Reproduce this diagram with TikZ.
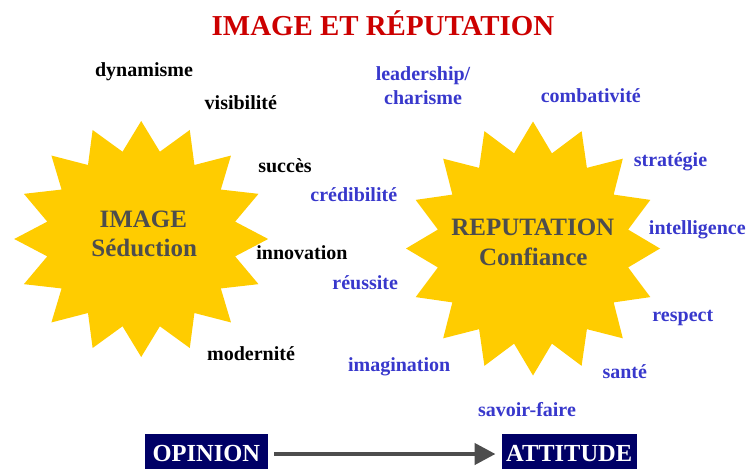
\documentclass[tikz,border=0pt]{standalone}
\usepackage{fontspec}
\setmainfont{Liberation Serif}
\usetikzlibrary{arrows.meta}

\definecolor{sunyellow}{HTML}{FFCC00}
\definecolor{titlered}{HTML}{CC0000}
\definecolor{wordblue}{HTML}{3838CC}
\definecolor{coregray}{HTML}{4D4D4D}
\definecolor{boxnavy}{HTML}{000066}

\tikzset{
  word/.style={inner sep=0pt, anchor=base, font=\bfseries\fontsize{20}{23.3}\selectfont},
  imageword/.style={word, text=black},
  repword/.style={word, text=wordblue},
  core/.style={inner sep=0pt, anchor=base, text=coregray, font=\bfseries\fontsize{25}{30}\selectfont},
  stagebox/.style={fill=boxnavy, text=white, inner sep=0pt, minimum height=40,
    font=\bfseries\fontsize{24.5}{28}\selectfont},
  flow/.style={draw=coregray, line width=4.5pt,
    -{Triangle[length=21pt,width=21pt]}, shorten <=6.3pt, shorten >=6pt},
}

% a 16-pointed star: #1 centre, #2 outer radius, #3 inner radius, #4 horizontal stretch
\newcommand{\sunburst}[4]{%
  \fill[sunyellow, shift={#1}, xscale=#4] (90:#2)
    \foreach \k in {0,...,15} { -- ({90+22.5*\k+11.25}:#3) -- ({90+22.5*(\k+1)}:#2) } -- cycle;}

\begin{document}
\begin{tikzpicture}[x=1pt, y=-1pt]
  \useasboundingbox (0,0) rectangle (751,468);

  % title
  \node[inner sep=0pt, anchor=base, text=titlered,
        font=\bfseries\fontsize{28.9}{32}\selectfont] (title) at (383,35.7) {IMAGE ET RÉPUTATION};

  % the two stars
  \coordinate (imgc) at (141.2,239);
  \coordinate (repc) at (533,248.5);
  \sunburst{(imgc)}{118}{89}{1.076}
  \sunburst{(repc)}{127}{97}{1}

  \node[core] (image) at (143.3,227.7) {IMAGE};
  \node[core] (seduction) at (144.2,256.7) {Séduction};
  \node[core] (reputation) at (532.8,235) {REPUTATION};
  \node[core] (confiance) at (533.3,265) {Confiance};

  % words around the image star
  \node[imageword] (dynamisme) at (144,76.7) {dynamisme};
  \node[imageword] (visibilite) at (240.8,109.3) {visibilité};
  \node[imageword] (succes) at (285,172) {succès};
  \node[imageword] (innovation) at (302,259.5) {innovation};
  \node[imageword] (modernite) at (251,360.7) {modernité};

  % words around the reputation star
  \node[repword, align=center, anchor=base] (leadership) at (423,104) {leadership/\\charisme};
  \node[repword] (combativite) at (590.8,102.7) {combativité};
  \node[repword] (strategie) at (670.5,166) {stratégie};
  \node[repword] (intelligence) at (697.3,234) {intelligence};
  \node[repword] (respect) at (682.8,321.7) {respect};
  \node[repword] (sante) at (624.8,378.3) {santé};
  \node[repword] (savoirfaire) at (527,416) {savoir-faire};
  \node[repword] (imagination) at (399.2,371.7) {imagination};
  \node[repword] (reussite) at (365.2,289) {réussite};
  \node[repword] (credibilite) at (353.8,201.7) {crédibilité};

  % opinion leads to attitude
  \node[stagebox, minimum width=122.7] (opinion) at (206.3,454) {OPINION};
  \node[stagebox, minimum width=135] (attitude) at (569.2,454) {ATTITUDE};
  \draw[flow] (opinion) -- (attitude);
\end{tikzpicture}
\end{document}
